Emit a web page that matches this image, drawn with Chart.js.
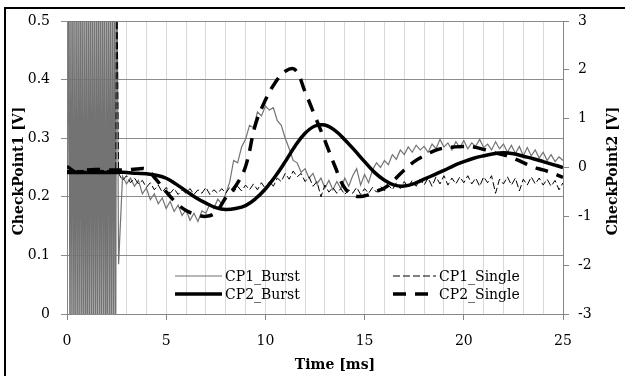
<!DOCTYPE html>
<html>
<head>
<meta charset="utf-8">
<script src="https://cdn.jsdelivr.net/npm/chart.js@4.4.1/dist/chart.umd.min.js"></script>
<style>
  html, body { margin: 0; padding: 0; background: #fff; overflow: hidden; }
  .chart { position: relative; width: 625px; height: 376px; }
  .frame { position: absolute; left: 4px; top: 7px; width: 700px; height: 420px; border: 2px solid #000; pointer-events: none; }
  canvas { position: absolute; left: 0; top: 0; }
</style>
</head>
<body>
<div class="chart">
  <canvas id="myChart" width="625" height="376"></canvas>
  <div class="frame"></div>
</div>
<script>
// Labels
const seriesNames = ["CP1_Burst", "CP1_Single", "CP2_Burst", "CP2_Single"];
const xTitle = "Time [ms]";
const yTitle = "CheckPoint1 [V]";
const y2Title = "CheckPoint2 [V]";

// CP1_Burst: ringing at the start (clipped by the axis), then the noisy trace
const cp1BurstRing = [
  0.25, 0.68, -0.18, 0.66, -0.15, 0.70, -0.20, 0.64, -0.16, 0.69,
  -0.19, 0.65, -0.14, 0.70, -0.20, 0.67, -0.17, 0.63, -0.15, 0.69,
  -0.20, 0.66, -0.16, 0.70, -0.18, 0.64, -0.15, 0.68, -0.19, 0.66,
  -0.17, 0.70, -0.16, 0.65, -0.18, 0.69, -0.15, 0.67, -0.20, 0.64,
  -0.17, 0.70, -0.16, 0.66, -0.19, 0.68, -0.15, 0.65, -0.18, 0.70
];
const cp1BurstTail = [
  0.085, 0.235, 0.222, 0.232, 0.218, 0.228, 0.205, 0.215, 0.195, 0.205,
  0.188, 0.198, 0.180, 0.192, 0.175, 0.186, 0.168, 0.178, 0.160, 0.172,
  0.158, 0.176, 0.172, 0.188, 0.180, 0.196, 0.188, 0.205, 0.225, 0.262,
  0.258, 0.285, 0.298, 0.322, 0.318, 0.345, 0.338, 0.355, 0.348, 0.352,
  0.330, 0.322, 0.300, 0.282, 0.262, 0.258, 0.242, 0.248, 0.232, 0.240,
  0.222, 0.232, 0.215, 0.228, 0.212, 0.226, 0.214, 0.232, 0.218, 0.236,
  0.248, 0.220, 0.238, 0.224, 0.246, 0.258, 0.250, 0.262, 0.255, 0.272,
  0.264, 0.280, 0.272, 0.285, 0.276, 0.288, 0.280, 0.286, 0.276, 0.290,
  0.282, 0.298, 0.285, 0.292, 0.280, 0.294, 0.284, 0.296, 0.282, 0.292,
  0.286, 0.298, 0.284, 0.290, 0.280, 0.294, 0.282, 0.290, 0.276, 0.288,
  0.274, 0.286, 0.270, 0.284, 0.270, 0.280, 0.266, 0.276, 0.262, 0.272,
  0.260, 0.268, 0.262
];

// CP1_Single
const cp1SingleHeadTime = [0, 1.2, 2.46, 2.5];
const cp1SingleHead = [0.245, 0.245, 0.245, 0.62];
const cp1SingleTail = [
  0.240, 0.228, 0.236, 0.224, 0.232, 0.222, 0.228, 0.216, 0.224, 0.212,
  0.220, 0.208, 0.216, 0.206, 0.214, 0.204, 0.212, 0.206, 0.214, 0.204,
  0.212, 0.206, 0.216, 0.204, 0.212, 0.206, 0.214, 0.206, 0.216, 0.208,
  0.218, 0.210, 0.220, 0.212, 0.222, 0.212, 0.224, 0.214, 0.226, 0.218,
  0.232, 0.226, 0.240, 0.230, 0.244, 0.234, 0.240, 0.226, 0.234, 0.218,
  0.226, 0.200, 0.220, 0.208, 0.216, 0.206, 0.214, 0.204, 0.212, 0.206,
  0.216, 0.204, 0.214, 0.206, 0.216, 0.208, 0.218, 0.210, 0.220, 0.212,
  0.224, 0.214, 0.226, 0.216, 0.228, 0.218, 0.230, 0.220, 0.232, 0.218,
  0.234, 0.222, 0.236, 0.220, 0.232, 0.222, 0.234, 0.224, 0.236, 0.222,
  0.232, 0.218, 0.234, 0.224, 0.236, 0.206, 0.230, 0.222, 0.234, 0.220,
  0.232, 0.210, 0.230, 0.220, 0.234, 0.222, 0.232, 0.220, 0.230, 0.218,
  0.228, 0.212, 0.224
];

// CP2 series (secondary axis), every 0.5 ms
const cp2Burst = [
  -0.10, -0.10, -0.10, -0.10, -0.10, -0.10, -0.10, -0.12, -0.13, -0.16,
  -0.22, -0.34, -0.48, -0.62, -0.73, -0.82, -0.86, -0.84, -0.78, -0.64,
  -0.44, -0.18, 0.12, 0.44, 0.70, 0.85, 0.87, 0.76, 0.57, 0.35,
  0.12, -0.10, -0.26, -0.36, -0.38, -0.33, -0.24, -0.15, -0.06, 0.04,
  0.12, 0.19, 0.24, 0.28, 0.30, 0.28, 0.23, 0.18, 0.12, 0.06,
  0.00
];
const cp2Single = [
  0.02, -0.10, -0.05, -0.04, -0.05, -0.05, -0.05, -0.03, -0.04, -0.25,
  -0.50, -0.72, -0.88, -0.96, -1.00, -0.92, -0.62, -0.38, 0.02, 0.88,
  1.38, 1.74, 1.97, 2.00, 1.55, 1.05, 0.55, 0.03, -0.42, -0.58,
  -0.58, -0.50, -0.42, -0.25, -0.05, 0.12, 0.24, 0.34, 0.40, 0.42,
  0.43, 0.42, 0.37, 0.31, 0.26, 0.19, 0.10, 0.01, -0.05, -0.12,
  -0.20
];

const FONT = "'DejaVu Serif', serif";

function stepTimes(start, step, count) {
  const t = [];
  for (let i = 0; i < count; i++) t.push(+(start + i * step).toFixed(3));
  return t;
}

function points(times, values) {
  return values.map((v, i) => ({ x: times[i], y: v }));
}

const cp1BurstData = points(
  [...stepTimes(0.05, 0.05, cp1BurstRing.length), ...stepTimes(2.6, 0.2, cp1BurstTail.length)],
  [...cp1BurstRing, ...cp1BurstTail]
);
const cp1SingleData = points(
  [...cp1SingleHeadTime, ...stepTimes(2.6, 0.2, cp1SingleTail.length)],
  [...cp1SingleHead, ...cp1SingleTail]
);
const cp2BurstData = points(stepTimes(0, 0.5, cp2Burst.length), cp2Burst);
const cp2SingleData = points(stepTimes(0, 0.5, cp2Single.length), cp2Single);

// legend boxes inside the plot + axis titles
const legendSlots = [
  { ds: 0, x: 175, y: 276, len: 47 },
  { ds: 1, x: 393, y: 276, len: 43 },
  { ds: 2, x: 175, y: 294, len: 47 },
  { ds: 3, x: 393, y: 294, len: 43 }
];

const textPlugin = {
  id: "textPlugin",
  afterDraw(chart) {
    const c = chart.ctx;
    c.save();
    c.fillStyle = "#000";
    c.font = "bold 14px " + FONT;
    c.textAlign = "center";
    c.textBaseline = "middle";
    c.fillText(xTitle, 335, 365);
    [[yTitle, 19], [y2Title, 613]].forEach(([text, x]) => {
      c.save();
      c.translate(x, 171);
      c.rotate(-Math.PI / 2);
      c.fillText(text, 0, 0);
      c.restore();
    });

    c.font = "14px " + FONT;
    c.textAlign = "left";
    legendSlots.forEach((s) => {
      const ds = chart.data.datasets[s.ds];
      c.save();
      c.strokeStyle = ds.borderColor;
      c.lineWidth = ds.borderWidth;
      c.setLineDash(ds.borderDash || []);
      c.beginPath();
      c.moveTo(s.x, s.y);
      c.lineTo(s.x + s.len, s.y);
      c.stroke();
      c.restore();
      c.fillText(ds.label, s.x + s.len + 3, s.y + 1);
    });
    c.restore();
  }
};

const ctx = document.getElementById("myChart").getContext("2d");

new Chart(ctx, {
  type: "line",
  data: {
    datasets: [
      { label: seriesNames[0], data: cp1BurstData, yAxisID: "y", borderColor: "#737373", borderWidth: 1.2, tension: 0, order: 4 },
      { label: seriesNames[1], data: cp1SingleData, yAxisID: "y", borderColor: "#000", borderWidth: 1, borderDash: [7, 3], tension: 0, order: 3 },
      { label: seriesNames[2], data: cp2BurstData, yAxisID: "y2", borderColor: "#000", borderWidth: 3.5, tension: 0.4, order: 2 },
      { label: seriesNames[3], data: cp2SingleData, yAxisID: "y2", borderColor: "#000", borderWidth: 3.5, borderDash: [13, 9], tension: 0.4, order: 1 }
    ]
  },
  options: {
    responsive: false,
    animation: false,
    devicePixelRatio: 1,
    layout: { padding: { top: 21, left: 0, right: 0, bottom: 0 } },
    elements: { point: { radius: 0 }, line: { borderCapStyle: "butt" } },
    plugins: { legend: { display: false }, tooltip: { enabled: false } },
    scales: {
      x: {
        type: "linear",
        min: 0,
        max: 25,
        afterFit: (s) => { s.height = 62; },
        ticks: {
          stepSize: 1,
          autoSkip: false,
          maxRotation: 0,
          padding: 13,
          color: "#000",
          font: { family: FONT, size: 14 },
          callback: (v) => (v % 5 === 0 ? v : "")
        },
        grid: {
          color: "#d9d9d9",
          tickLength: 6,
          tickColor: (c) => (c.tick && c.tick.value % 5 === 0 ? "#868686" : "rgba(0,0,0,0)")
        },
        border: { color: "#868686" }
      },
      y: {
        position: "left",
        min: 0,
        max: 0.5,
        afterFit: (s) => { s.width = 67; },
        ticks: {
          stepSize: 0.1,
          padding: 11,
          color: "#000",
          font: { family: FONT, size: 14 }
        },
        grid: { color: "#8c8c8c", tickLength: 6 },
        border: { color: "#868686" }
      },
      y2: {
        position: "right",
        min: -3,
        max: 3,
        afterFit: (s) => { s.width = 62; },
        ticks: {
          stepSize: 1,
          padding: 9,
          color: "#000",
          font: { family: FONT, size: 14 }
        },
        grid: { drawOnChartArea: false, color: "#868686", tickLength: 6 },
        border: { color: "#868686" }
      }
    }
  },
  plugins: [textPlugin]
});
</script>
</body>
</html>
